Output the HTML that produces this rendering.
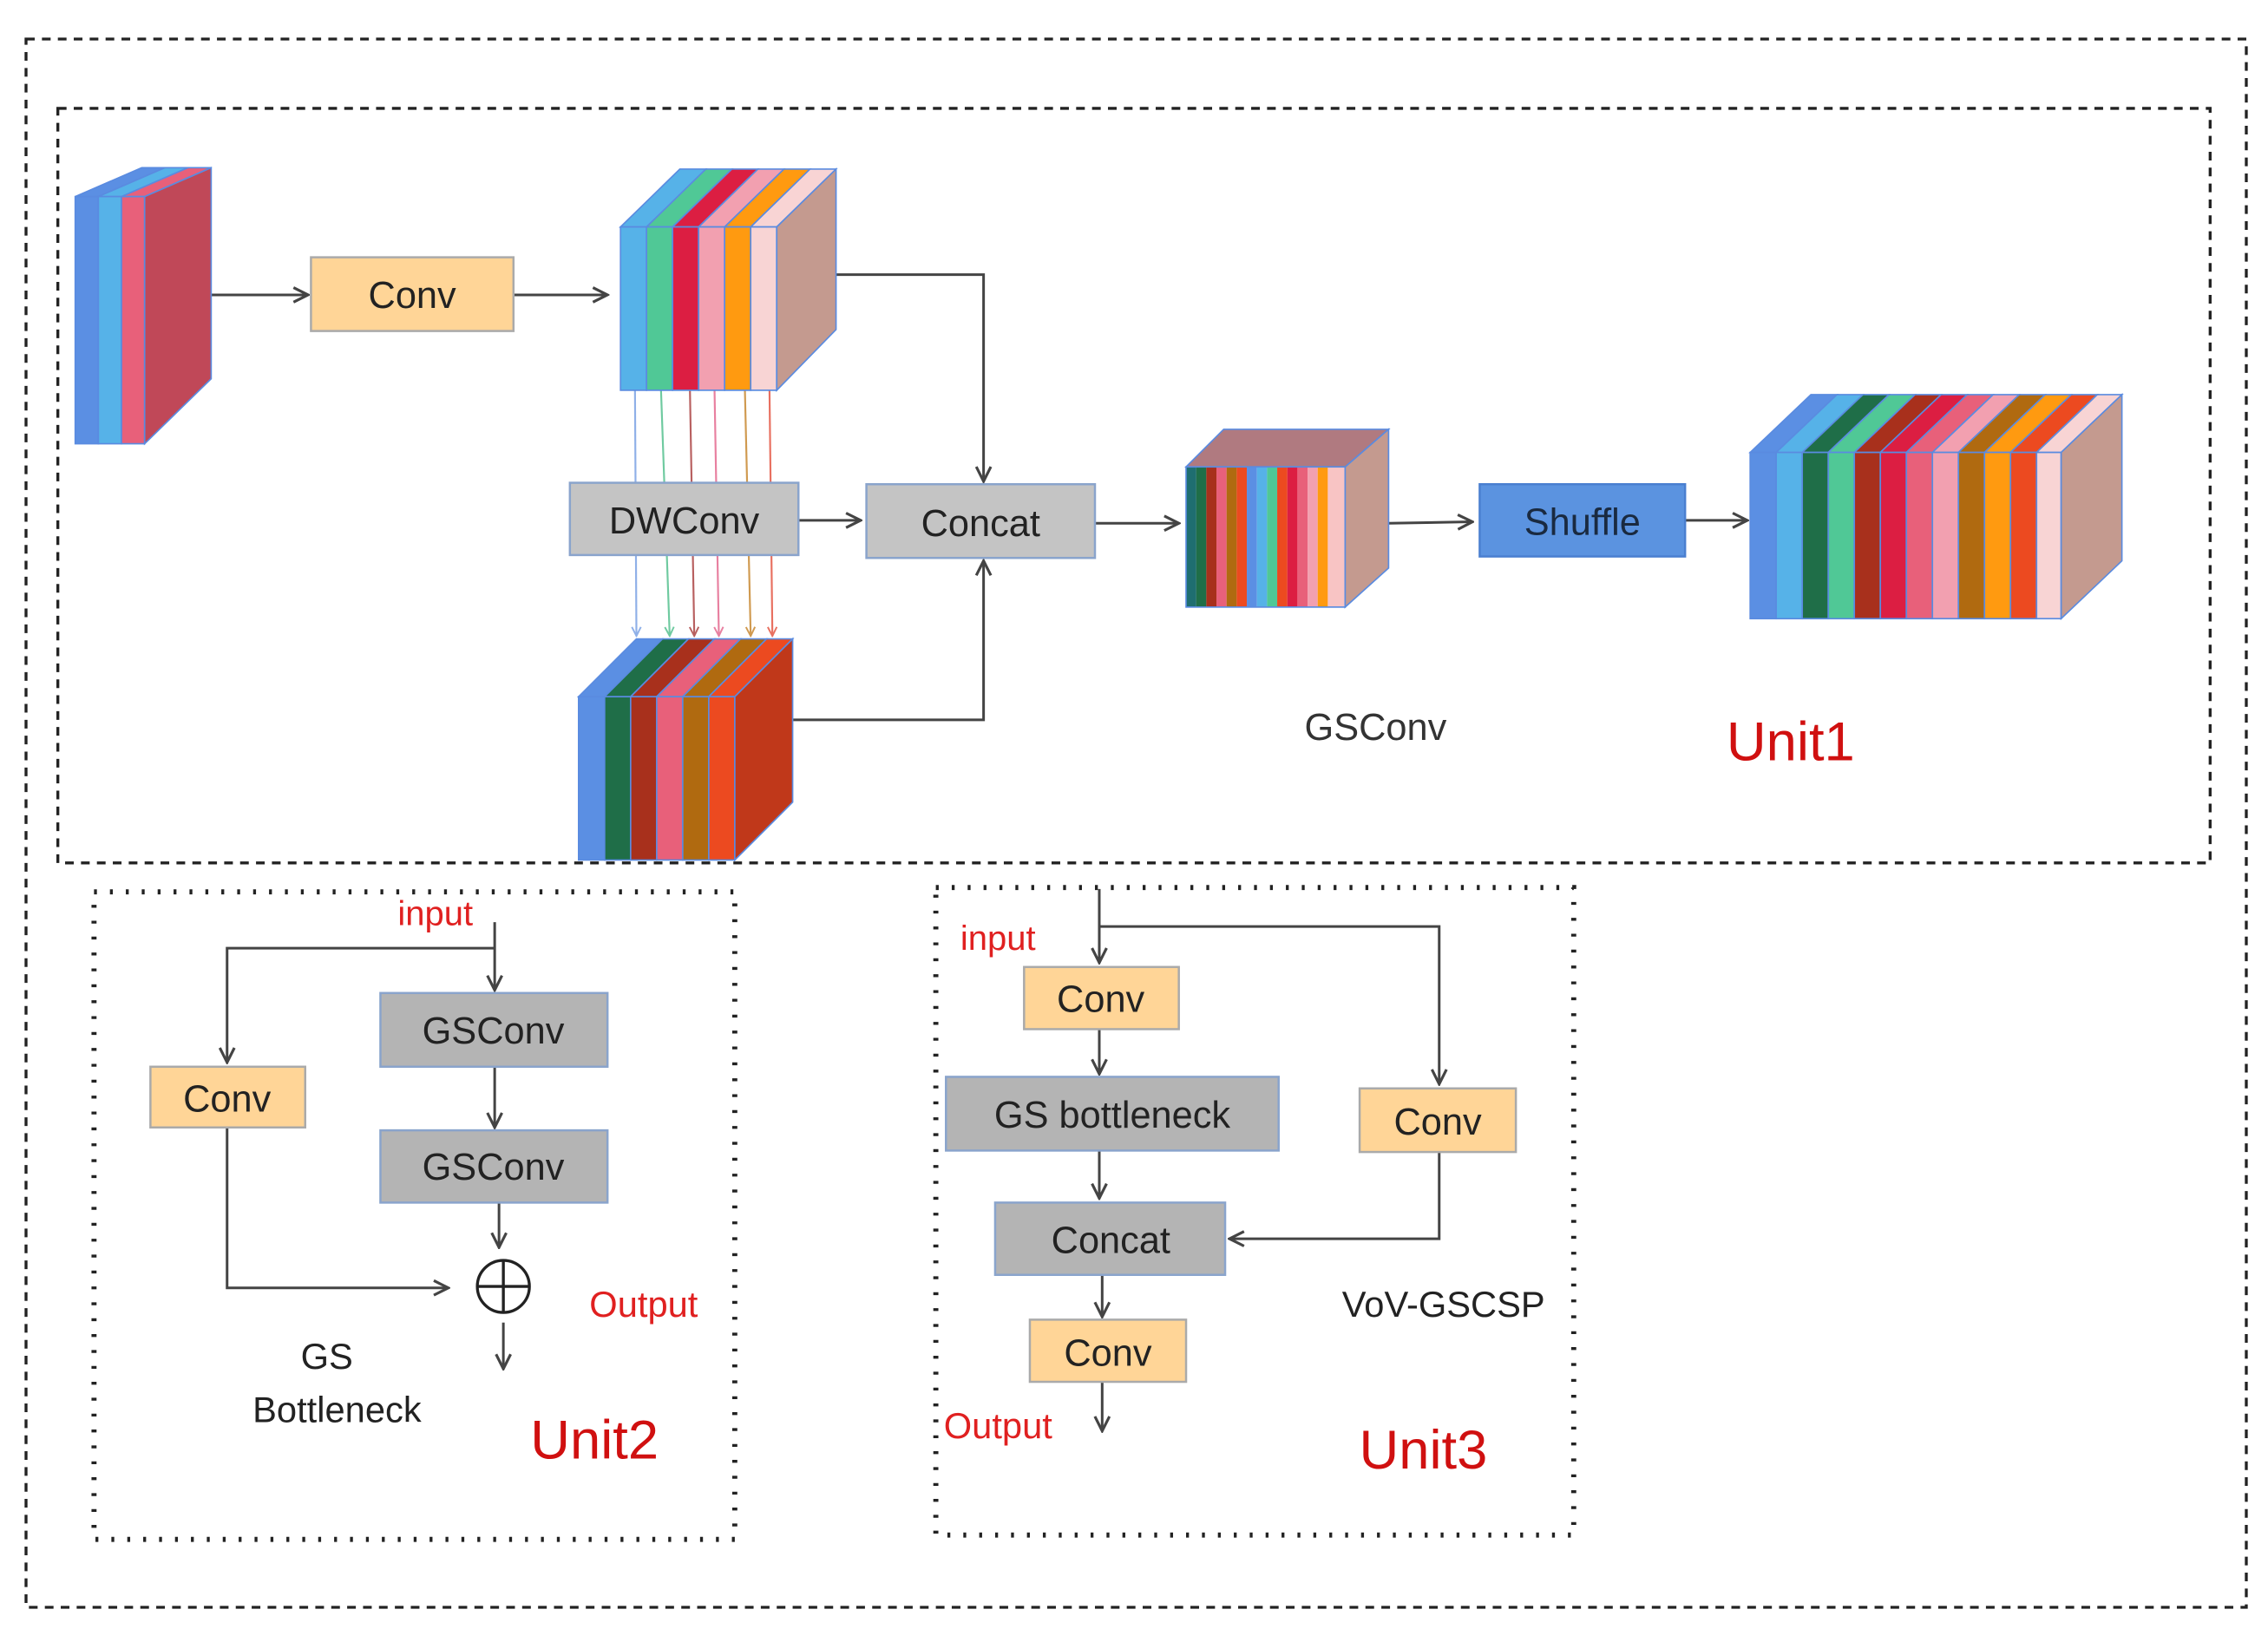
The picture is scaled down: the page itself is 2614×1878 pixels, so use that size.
<!DOCTYPE html>
<html><head><meta charset="utf-8"><style>
html,body{margin:0;padding:0;background:#fff;}
svg{display:block;}
text{font-family:"Liberation Sans",sans-serif;}
</style></head><body>
<svg width="2614" height="1878" viewBox="0 0 1568 1127" preserveAspectRatio="none" xmlns="http://www.w3.org/2000/svg">
<defs>
<marker id="a" viewBox="0 0 10 10" refX="9" refY="5" markerWidth="7" markerHeight="7" orient="auto"><path d="M1,1 L9,5 L1,9" fill="none" stroke="#444" stroke-width="1.5"/></marker>
<marker id="ac" viewBox="0 0 10 10" refX="9" refY="5" markerWidth="6" markerHeight="6" orient="auto"><path d="M1,1 L9,5 L1,9" fill="none" stroke="context-stroke" stroke-width="1.5"/></marker>
</defs>
<rect x="18" y="27" width="1535" height="1085" fill="none" stroke="#222" stroke-width="2" stroke-dasharray="6,5"/>
<rect x="40" y="75" width="1488" height="522" fill="none" stroke="#222" stroke-width="2" stroke-dasharray="6,5"/>
<rect x="65" y="617" width="443" height="448" fill="none" stroke="#222" stroke-width="3.5" stroke-dasharray="2,9"/>
<rect x="647" y="614" width="441" height="448" fill="none" stroke="#222" stroke-width="3.5" stroke-dasharray="2,9"/>

<g stroke="#444" stroke-width="1.8" fill="none">
<line x1="146" y1="204" x2="213" y2="204" marker-end="url(#a)"/>
<line x1="355" y1="204" x2="420" y2="204" marker-end="url(#a)"/>
<polyline points="578,190 680,190 680,333" marker-end="url(#a)"/>
<polyline points="548,498 680,498 680,388" marker-end="url(#a)"/>
<line x1="552" y1="360" x2="595" y2="360" marker-end="url(#a)"/>
<line x1="757" y1="362" x2="815" y2="362" marker-end="url(#a)"/>
<line x1="960" y1="362" x2="1018" y2="361" marker-end="url(#a)"/>
<line x1="1165" y1="360" x2="1208" y2="360" marker-end="url(#a)"/>
</g>
<g stroke-width="1.3" fill="none">
<line x1="439" y1="270" x2="440" y2="440" stroke="#8fb0e8" marker-end="url(#ac)"/>
<line x1="457" y1="270" x2="463" y2="440" stroke="#6fcaa0" marker-end="url(#ac)"/>
<line x1="477" y1="270" x2="480" y2="440" stroke="#b86060" marker-end="url(#ac)"/>
<line x1="494" y1="270" x2="497" y2="440" stroke="#e880a0" marker-end="url(#ac)"/>
<line x1="515" y1="270" x2="519" y2="440" stroke="#d09a50" marker-end="url(#ac)"/>
<line x1="532" y1="270" x2="534" y2="440" stroke="#e87060" marker-end="url(#ac)"/>
</g>

<!-- cube1 -->
<g stroke="#5a8be0" stroke-width="1">
<polygon points="52,136 98,116 114,116 68,136" fill="#5b8fe3"/>
<polygon points="68,136 114,116 130,116 84,136" fill="#56b2e8"/>
<polygon points="84,136 130,116 146,116 100,136" fill="#e8607a"/>
<rect x="52" y="136" width="16" height="171" fill="#5b8fe3"/>
<rect x="68" y="136" width="16" height="171" fill="#56b2e8"/>
<rect x="84" y="136" width="16" height="171" fill="#e8607a"/>
<polygon points="100,136 146,116 146,262 100,307" fill="#c04858"/>
</g>
<!-- cube2 -->
<g stroke="#5a8be0" stroke-width="1">
<polygon points="429,157 470,117 488,117 447,157" fill="#56b2e8"/>
<polygon points="447,157 488,117 506,117 465,157" fill="#50c896"/>
<polygon points="465,157 506,117 524,117 483,157" fill="#dc1e42"/>
<polygon points="483,157 524,117 542,117 501,157" fill="#f2a0b0"/>
<polygon points="501,157 542,117 560,117 519,157" fill="#ff9a10"/>
<polygon points="519,157 560,117 578,117 537,157" fill="#f8d4d4"/>
<rect x="429" y="157" width="18" height="113" fill="#56b2e8"/>
<rect x="447" y="157" width="18" height="113" fill="#50c896"/>
<rect x="465" y="157" width="18" height="113" fill="#dc1e42"/>
<rect x="483" y="157" width="18" height="113" fill="#f2a0b0"/>
<rect x="501" y="157" width="18" height="113" fill="#ff9a10"/>
<rect x="519" y="157" width="18" height="113" fill="#f8d4d4"/>
<polygon points="537,157 578,117 578,228 537,270" fill="#c49a8f"/>
</g>
<!-- cube3 -->
<g stroke="#5a8be0" stroke-width="1">
<polygon points="400,482 440,442 458,442 418,482" fill="#5b8fe3"/>
<polygon points="418,482 458,442 476,442 436,482" fill="#1f6e48"/>
<polygon points="436,482 476,442 494,442 454,482" fill="#a8301c"/>
<polygon points="454,482 494,442 512,442 472,482" fill="#e8607a"/>
<polygon points="472,482 512,442 530,442 490,482" fill="#b06a10"/>
<polygon points="490,482 530,442 548,442 508,482" fill="#ec4a20"/>
<rect x="400" y="482" width="18" height="113" fill="#5b8fe3"/>
<rect x="418" y="482" width="18" height="113" fill="#1f6e48"/>
<rect x="436" y="482" width="18" height="113" fill="#a8301c"/>
<rect x="454" y="482" width="18" height="113" fill="#e8607a"/>
<rect x="472" y="482" width="18" height="113" fill="#b06a10"/>
<rect x="490" y="482" width="18" height="113" fill="#ec4a20"/>
<polygon points="508,482 548,442 548,555 508,595" fill="#c0381a"/>
</g>
<!-- cube4 -->
<g stroke="#5a8be0" stroke-width="1">
<polygon points="820,323 846,297 960,297 930,323" fill="#b07a80"/>
<g stroke="none">
<rect x="820" y="323" width="7" height="97" fill="#1f6e70"/>
<rect x="827" y="323" width="7" height="97" fill="#1f6e48"/>
<rect x="834" y="323" width="7" height="97" fill="#a8301c"/>
<rect x="841" y="323" width="7" height="97" fill="#e8607a"/>
<rect x="848" y="323" width="7" height="97" fill="#b06a10"/>
<rect x="855" y="323" width="7" height="97" fill="#ec4a20"/>
<rect x="862" y="323" width="7" height="97" fill="#5b8fe3"/>
<rect x="869" y="323" width="7" height="97" fill="#56b2e8"/>
<rect x="876" y="323" width="7" height="97" fill="#50c896"/>
<rect x="883" y="323" width="7" height="97" fill="#ec4a20"/>
<rect x="890" y="323" width="7" height="97" fill="#dc1e42"/>
<rect x="897" y="323" width="7" height="97" fill="#e8607a"/>
<rect x="904" y="323" width="7" height="97" fill="#f2a0b0"/>
<rect x="911" y="323" width="7" height="97" fill="#ff9a10"/>
<rect x="918" y="323" width="12" height="97" fill="#f8c4c4"/>
</g>
<rect x="820" y="323" width="110" height="97" fill="none"/>
<polygon points="930,323 960,297 960,393 930,420" fill="#c49a8f"/>
</g>
<!-- cube5 -->
<g stroke="#5a8be0" stroke-width="1">
<polygon points="1210,313 1252,273 1270,273 1228,313" fill="#5b8fe3"/>
<polygon points="1228,313 1270,273 1288,273 1246,313" fill="#56b2e8"/>
<polygon points="1246,313 1288,273 1306,273 1264,313" fill="#1f6e48"/>
<polygon points="1264,313 1306,273 1324,273 1282,313" fill="#50c896"/>
<polygon points="1282,313 1324,273 1342,273 1300,313" fill="#a8301c"/>
<polygon points="1300,313 1342,273 1360,273 1318,313" fill="#dc1e42"/>
<polygon points="1318,313 1360,273 1378,273 1336,313" fill="#e8607a"/>
<polygon points="1336,313 1378,273 1396,273 1354,313" fill="#f2a0b0"/>
<polygon points="1354,313 1396,273 1414,273 1372,313" fill="#b06a10"/>
<polygon points="1372,313 1414,273 1432,273 1390,313" fill="#ff9a10"/>
<polygon points="1390,313 1432,273 1450,273 1408,313" fill="#ec4a20"/>
<polygon points="1408,313 1450,273 1467,273 1425,313" fill="#f8d4d4"/>
<rect x="1210" y="313" width="18" height="115" fill="#5b8fe3"/>
<rect x="1228" y="313" width="18" height="115" fill="#56b2e8"/>
<rect x="1246" y="313" width="18" height="115" fill="#1f6e48"/>
<rect x="1264" y="313" width="18" height="115" fill="#50c896"/>
<rect x="1282" y="313" width="18" height="115" fill="#a8301c"/>
<rect x="1300" y="313" width="18" height="115" fill="#dc1e42"/>
<rect x="1318" y="313" width="18" height="115" fill="#e8607a"/>
<rect x="1336" y="313" width="18" height="115" fill="#f2a0b0"/>
<rect x="1354" y="313" width="18" height="115" fill="#b06a10"/>
<rect x="1372" y="313" width="18" height="115" fill="#ff9a10"/>
<rect x="1390" y="313" width="18" height="115" fill="#ec4a20"/>
<rect x="1408" y="313" width="17" height="115" fill="#f8d4d4"/>
<polygon points="1425,313 1467,273 1467,388 1425,428" fill="#c49a8f"/>
</g>

<rect x="215" y="178" width="140" height="51" fill="#ffd597" stroke="#aaa" stroke-width="1.5"/>
<text x="285" y="213" font-size="26" text-anchor="middle" fill="#222">Conv</text>
<rect x="394" y="334" width="158" height="50" fill="#c4c4c4" stroke="#8aa4cc" stroke-width="1.5"/>
<text x="473" y="369" font-size="26" text-anchor="middle" fill="#222">DWConv</text>
<rect x="599" y="335" width="158" height="51" fill="#c4c4c4" stroke="#8aa4cc" stroke-width="1.5"/>
<text x="678" y="371" font-size="26" text-anchor="middle" fill="#222">Concat</text>
<rect x="1023" y="335" width="142" height="50" fill="#5b93e0" stroke="#4a7fd0" stroke-width="1.5"/>
<text x="1094" y="370" font-size="26" text-anchor="middle" fill="#1a2a40">Shuffle</text>
<text x="951" y="512" font-size="26" text-anchor="middle" fill="#333">GSConv</text>
<text x="1238" y="526" font-size="38" text-anchor="middle" fill="#d01010">Unit1</text>

<g stroke="#444" stroke-width="1.8" fill="none">
<line x1="342" y1="638" x2="342" y2="685" marker-end="url(#a)"/>
<polyline points="342,656 157,656 157,735" marker-end="url(#a)"/>
<line x1="342" y1="738" x2="342" y2="780" marker-end="url(#a)"/>
<line x1="345" y1="832" x2="345" y2="863" marker-end="url(#a)"/>
<polyline points="157,780 157,891 310,891" marker-end="url(#a)"/>
<line x1="348" y1="915" x2="348" y2="947" marker-end="url(#a)"/>
<circle cx="348" cy="890" r="18" stroke="#222" stroke-width="2"/>
<line x1="330" y1="890" x2="366" y2="890" stroke="#222" stroke-width="2"/>
<line x1="348" y1="872" x2="348" y2="908" stroke="#222" stroke-width="2"/>
</g>
<text x="301" y="640" font-size="24" text-anchor="middle" fill="#e02020">input</text>
<rect x="263" y="687" width="157" height="51" fill="#b4b4b4" stroke="#8aa4cc" stroke-width="1.5"/>
<text x="341" y="722" font-size="26" text-anchor="middle" fill="#222">GSConv</text>
<rect x="263" y="782" width="157" height="50" fill="#b4b4b4" stroke="#8aa4cc" stroke-width="1.5"/>
<text x="341" y="816" font-size="26" text-anchor="middle" fill="#222">GSConv</text>
<rect x="104" y="738" width="107" height="42" fill="#ffd597" stroke="#aaa" stroke-width="1.5"/>
<text x="157" y="769" font-size="26" text-anchor="middle" fill="#222">Conv</text>
<text x="445" y="911" font-size="25" text-anchor="middle" fill="#e02020">Output</text>
<text x="226" y="947" font-size="25" text-anchor="middle" fill="#222">GS</text>
<text x="233" y="984" font-size="25" text-anchor="middle" fill="#222">Bottleneck</text>
<text x="411" y="1009" font-size="38" text-anchor="middle" fill="#d01010">Unit2</text>

<g stroke="#444" stroke-width="1.8" fill="none">
<line x1="760" y1="615" x2="760" y2="666" marker-end="url(#a)"/>
<polyline points="760,641 995,641 995,750" marker-end="url(#a)"/>
<line x1="760" y1="712" x2="760" y2="743" marker-end="url(#a)"/>
<line x1="760" y1="796" x2="760" y2="829" marker-end="url(#a)"/>
<polyline points="995,797 995,857 850,857" marker-end="url(#a)"/>
<line x1="762" y1="882" x2="762" y2="911" marker-end="url(#a)"/>
<line x1="762" y1="956" x2="762" y2="990" marker-end="url(#a)"/>
</g>
<text x="690" y="657" font-size="24" text-anchor="middle" fill="#e02020">input</text>
<rect x="708" y="669" width="107" height="43" fill="#ffd597" stroke="#aaa" stroke-width="1.5"/>
<text x="761" y="700" font-size="26" text-anchor="middle" fill="#222">Conv</text>
<rect x="654" y="745" width="230" height="51" fill="#b4b4b4" stroke="#8aa4cc" stroke-width="1.5"/>
<text x="769" y="780" font-size="26" text-anchor="middle" fill="#222">GS bottleneck</text>
<rect x="940" y="753" width="108" height="44" fill="#ffd597" stroke="#aaa" stroke-width="1.5"/>
<text x="994" y="785" font-size="26" text-anchor="middle" fill="#222">Conv</text>
<rect x="688" y="832" width="159" height="50" fill="#b4b4b4" stroke="#8aa4cc" stroke-width="1.5"/>
<text x="768" y="867" font-size="26" text-anchor="middle" fill="#222">Concat</text>
<rect x="712" y="913" width="108" height="43" fill="#ffd597" stroke="#aaa" stroke-width="1.5"/>
<text x="766" y="945" font-size="26" text-anchor="middle" fill="#222">Conv</text>
<text x="690" y="995" font-size="25" text-anchor="middle" fill="#e02020">Output</text>
<text x="998" y="911" font-size="25" text-anchor="middle" fill="#222">VoV-GSCSP</text>
<text x="984" y="1016" font-size="38" text-anchor="middle" fill="#d01010">Unit3</text>
</svg>
</body></html>
